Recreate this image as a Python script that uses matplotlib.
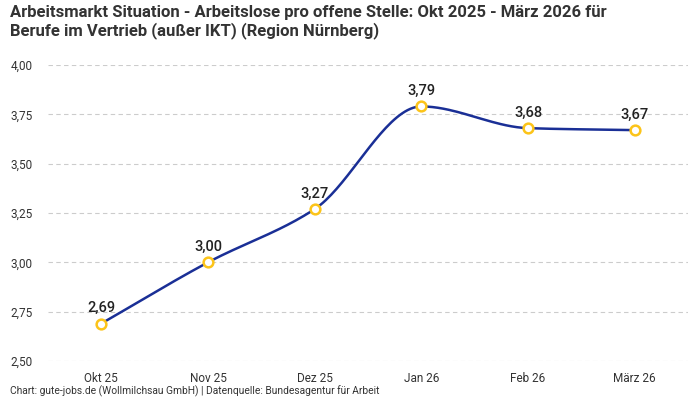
import numpy as np
import matplotlib
matplotlib.use("Agg")
import matplotlib.pyplot as plt

plt.rcParams['font.family'] = ['Roboto', 'DejaVu Sans']

months = ["Okt 25", "Nov 25", "Dez 25", "Jan 26", "Feb 26", "März 26"]
values = [2.69, 3.00, 3.27, 3.79, 3.68, 3.67]
yticks = [2.50, 2.75, 3.00, 3.25, 3.50, 3.75, 4.00]

title = ("Arbeitsmarkt Situation - Arbeitslose pro offene Stelle: Okt 2025 - März 2026 für\n"
         "Berufe im Vertrieb (außer IKT) (Region Nürnberg)")
source = "Chart: gute-jobs.de (Wollmilchsau GmbH) | Datenquelle: Bundesagentur für Arbeit"


def monotone_curve(x, y, n=40):
    # monotone cubic (Fritsch-Carlson) for the smooth line
    x = np.asarray(x, float)
    y = np.asarray(y, float)
    h = np.diff(x)
    d = np.diff(y) / h
    m = np.zeros_like(y)
    m[0], m[-1] = d[0], d[-1]
    for i in range(1, len(y) - 1):
        if d[i - 1] * d[i] <= 0:
            m[i] = 0
        else:
            w1 = 2 * h[i] + h[i - 1]
            w2 = h[i] + 2 * h[i - 1]
            m[i] = (w1 + w2) / (w1 / d[i - 1] + w2 / d[i])
    xs, ys = [], []
    for i in range(len(x) - 1):
        t = np.linspace(0, 1, n)
        h00 = 2 * t**3 - 3 * t**2 + 1
        h10 = t**3 - 2 * t**2 + t
        h01 = -2 * t**3 + 3 * t**2
        h11 = t**3 - t**2
        xs.append(x[i] + t * h[i])
        ys.append(h00 * y[i] + h10 * h[i] * m[i] + h01 * y[i + 1] + h11 * h[i] * m[i + 1])
    return np.concatenate(xs), np.concatenate(ys)


fig = plt.figure(figsize=(7, 4), dpi=100)
ax = fig.add_axes([0.0686, 0.0975, 0.9144, 0.74])

x = np.arange(len(months))
cx, cy = monotone_curve(x, values)
ax.plot(cx, cy, color="#1a2f96", lw=1.8, zorder=3)
ax.plot(x, values, "o", ms=7, mfc="white", mec="#fcc419", mew=1.8, zorder=4)

for xi, v in zip(x, values):
    ax.annotate(f"{v:.2f}".replace(".", ","), (xi, v), xytext=(0, 6),
                textcoords="offset points", ha="center", va="bottom",
                fontsize=10.5, fontweight="medium", color="#222222")

ax.set_xlim(-0.5, 5.5)
ax.set_ylim(2.5, 4.0)
ax.set_yticks(yticks)
ax.set_yticklabels([f"{t:.2f}".replace(".", ",") for t in yticks])
ax.set_xticks(x)
ax.set_xticklabels(months)
ax.tick_params(length=0, labelsize=8.5, colors="#333333")
ax.tick_params(axis="x", pad=8)
ax.tick_params(axis="y", pad=11)
ax.grid(axis="y", color="#cccccc", linestyle=(0, (4, 3)), lw=0.8)
for s in ax.spines.values():
    s.set_visible(False)

fig.text(0.014, 0.988, title, ha="left", va="top", fontsize=12, fontweight="bold",
         color="#333333", linespacing=1.15)
fig.text(0.014, 0.008, source, ha="left", va="bottom", fontsize=7.4, color="#333333")

fig.savefig("out.png", dpi=100)
